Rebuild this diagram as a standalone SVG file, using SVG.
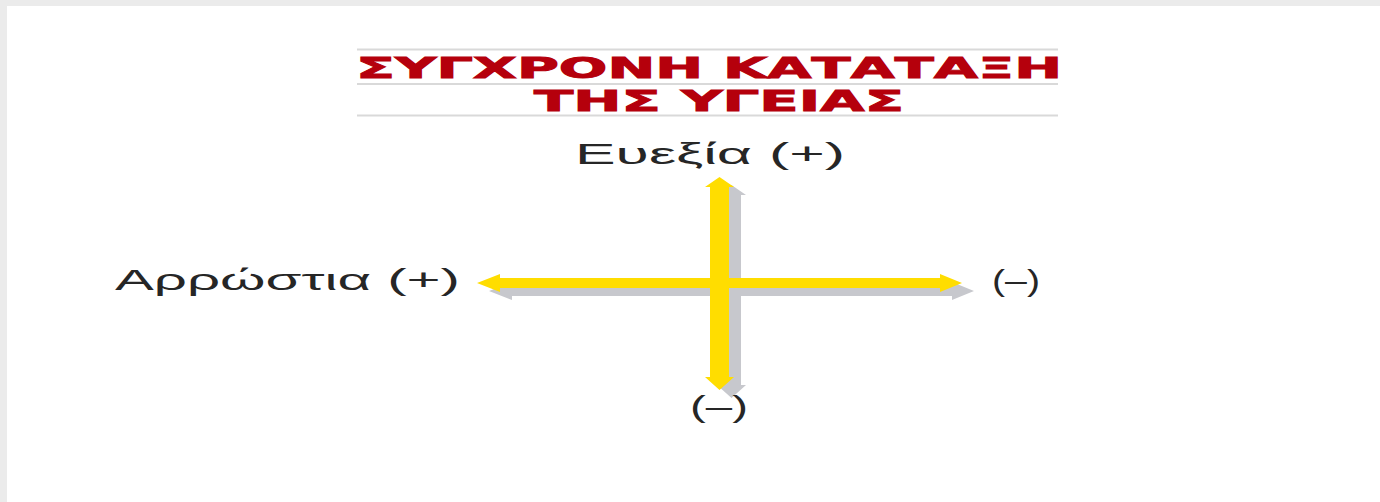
<svg xmlns="http://www.w3.org/2000/svg" width="1380" height="502" viewBox="0 0 1380 502">
<style>
.title{font-family:"DejaVu Sans","Liberation Sans",sans-serif;font-weight:bold;fill:#b5000c;stroke:#b5000c;stroke-width:0.9;font-size:28px}
.lbl{font-family:"Liberation Sans","DejaVu Sans",sans-serif;fill:#262626;font-size:29px}
.rule{stroke:#d9d9d9;stroke-width:2}
.shadow{fill:#c7c8cd}
.arrow{fill:#ffdd00}
</style>
<defs>
<path id="vArrow" d="M719.5,177 L734,187 L729,187 L729,377 L734,377 L719.5,390 L705,377 L710,377 L710,187 L705,187 Z"/>
<path id="hArrow" d="M477,283 L500,274 L500,278 L940,278 L940,274 L962,283 L940,292 L940,288 L500,288 L500,292 Z"/>
</defs>
<rect x="0" y="0" width="1380" height="502" fill="#ebebeb"/>
<rect x="7" y="6" width="1373" height="496" fill="#ffffff"/>
<g id="title">
<line class="rule" x1="357" y1="49.5" x2="1058" y2="49.5"/>
<line class="rule" x1="357" y1="84" x2="1058" y2="84"/>
<line class="rule" x1="357" y1="115.5" x2="1058" y2="115.5"/>
<text class="title" x="356" y="78" textLength="706" lengthAdjust="spacingAndGlyphs">ΣΥΓΧΡΟΝΗ ΚΑΤΑΤΑΞΗ</text>
<text class="title" x="534" y="111" textLength="370" lengthAdjust="spacingAndGlyphs">ΤΗΣ ΥΓΕΙΑΣ</text>
</g>
<g id="connectors">
<use href="#vArrow" class="shadow" transform="translate(12,8)"/>
<use href="#hArrow" class="shadow" transform="translate(12,8)"/>
<use href="#hArrow" class="arrow"/>
<use href="#vArrow" class="arrow"/>
</g>
<g id="node-top"><text class="lbl" x="575" y="164" textLength="270" lengthAdjust="spacingAndGlyphs">Ευεξία (+)</text></g>
<g id="node-left"><text class="lbl" x="115" y="290" textLength="345" lengthAdjust="spacingAndGlyphs">Αρρώστια (+)</text></g>
<g id="node-right"><text class="lbl" x="992" y="291" textLength="48" lengthAdjust="spacingAndGlyphs">(–)</text></g>
<g id="node-bottom"><text class="lbl" x="690" y="417" textLength="58" lengthAdjust="spacingAndGlyphs">(–)</text></g>
</svg>
